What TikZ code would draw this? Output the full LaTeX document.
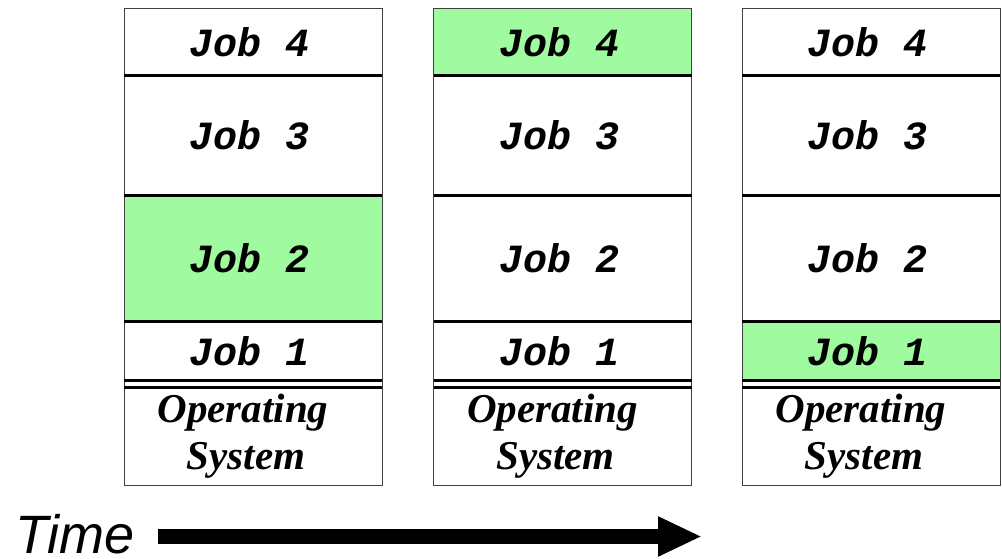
\documentclass[tikz,border=0pt]{standalone}
\usepackage{fontspec}
\setmainfont{Liberation Serif}
\newfontfamily\jobfont{Liberation Mono}
\newfontfamily\timefont{Liberation Sans}
\usetikzlibrary{arrows.meta}
\definecolor{jobgreen}{RGB}{160,251,160}
\tikzset{
  cell/.style={anchor=north west, minimum width=258pt, inner sep=0pt, outer sep=0pt,
    font=\jobfont\bfseries\itshape\fontsize{40}{40}\selectfont},
  oscell/.style={anchor=north west, minimum width=258pt, minimum height=98.5pt, inner sep=0pt, outer sep=0pt,
    align=center, font=\bfseries\itshape\fontsize{41}{47}\selectfont},
  border/.style={draw=black!75, line width=1pt},
  sep/.style={draw=black, line width=3pt},
  timearrow/.style={line width=15pt, -{Triangle[length=44pt,width=37pt]}},
}
\newcommand{\jobtext}[1]{\hspace*{-6pt}Job #1}
\begin{document}
\begin{tikzpicture}[x=1pt,y=-1pt]
\useasboundingbox (0,0) rectangle (1002,558);
\foreach \c/\x/\ga/\gb/\gc/\gd in {1/124/none/none/jobgreen/none, 2/433.5/jobgreen/none/none/none, 3/742/none/none/none/jobgreen}{
  \node[cell, fill=\ga, minimum height=67.5pt] (j4\c) at (\x,8) {\jobtext{4}};
  \node[cell, fill=\gb, minimum height=119.5pt] (j3\c) at (\x,75.5) {\jobtext{3}};
  \node[cell, fill=\gc, minimum height=126pt] (j2\c) at (\x,195) {\jobtext{2}};
  \node[cell, fill=\gd, minimum height=59.5pt] (j1\c) at (\x,321) {\jobtext{1}};
  \node[oscell] (os\c) at (\x,387) {\hspace*{-20pt}Operating\\\hspace*{-14pt}System};
  \draw[border] (j4\c.north west) rectangle (os\c.south east);
  \draw[sep] (j4\c.south west) -- (j4\c.south east);
  \draw[sep] (j3\c.south west) -- (j3\c.south east);
  \draw[sep] (j2\c.south west) -- (j2\c.south east);
  \draw[sep] (j1\c.south west) -- (j1\c.south east);
  \draw[sep] (os\c.north west) -- (os\c.north east);
}
\node[anchor=base west, inner sep=0pt, font=\timefont\itshape\fontsize{54}{54}\selectfont] (time) at (15,553) {Time};
\coordinate (tail) at (158,536.5);
\coordinate (tip) at (702,536.5);
\draw[timearrow] (tail) -- (tip);
\end{tikzpicture}
\end{document}
